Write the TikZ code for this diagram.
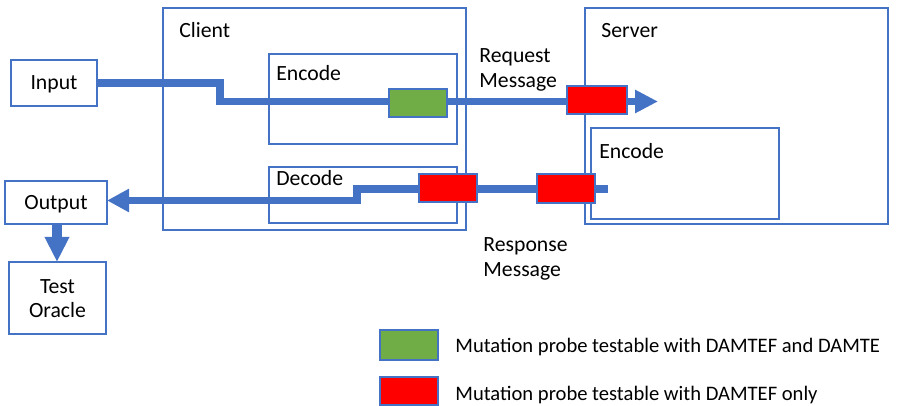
\documentclass[tikz,border=0pt]{standalone}
\usepackage{fontspec}
\setmainfont{Carlito}
\usetikzlibrary{arrows.meta,fit}
\definecolor{lineblue}{HTML}{4472C4}
\definecolor{probegreen}{HTML}{70AD47}
\definecolor{probered}{HTML}{FF0000}
\begin{document}
\begin{tikzpicture}[x=0.5pt,y=-0.5pt,
  box/.style={draw=lineblue, line width=1.1pt, inner sep=0pt},
  probe/.style={draw=lineblue, line width=1.3pt, inner sep=0pt},
  lbl/.style={font=\fontsize{10.85}{12.5}\selectfont, inner sep=0pt, anchor=base west},
  legendtext/.style={font=\fontsize{10.3}{12.5}\selectfont, inner sep=0pt, anchor=base west},
  flow/.style={draw=lineblue, line width=3.6pt, line join=miter},
  headtip/.style={-{Triangle[length=11.5pt,width=11pt]}}
]
\useasboundingbox (0,0) rectangle (921,406);

% containers
\node[box, fit={(163,8) (466,230)}] (client) {};
\node[box, fit={(269,54) (457,144)}] (cenc) {};
\node[box, fit={(269,167) (457,223)}] (cdec) {};
\node[box, fit={(585,8) (888,224)}] (server) {};
\node[box, fit={(591,128) (779,219)}] (senc) {};
\node[box, fit={(11,60) (97,106)}] (input) {};
\node[box, fit={(5,181) (107,224)}] (output) {};
\node[box, fit={(9,262) (106,334)}] (oracle) {};

% labels (multi-line nodes sit on the baseline of their last line)
\node[lbl] (tclient) at (179,38) {Client};
\node[lbl] (tcenc) at (276,81) {Encode};
\node[lbl] (tcdec) at (276,186) {Decode};
\node[lbl] (tserver) at (601,38) {Server};
\node[lbl] (tsenc) at (599,159) {Encode};
\node[lbl, anchor=base] (tinput) at (54,90) {Input};
\node[lbl, anchor=base] (toutput) at (56,210) {Output};
\node[lbl, anchor=base, align=center] (toracle) at (57.5,318) {Test\\Oracle};
\node[lbl, align=left] (treq) at (479,88) {Request\\Message};
\node[lbl, align=left] (tresp) at (483,277) {Response\\Message};

% request path
\coordinate (reqend) at (658,101.5);
\draw[flow, headtip] (input.east) -- (220,83) -- (220,101.5) -- (reqend);

% response path
\coordinate (respstart) at (608,189);
\coordinate (respend) at (107,200.5);
\draw[flow, -{Triangle[length=11pt,width=11pt]}] (respstart) -- (357,189) -- (357,200.5) -- (respend);

% output to oracle
\coordinate (otop) at (57,224);
\coordinate (obot) at (57,262);
\draw[draw=lineblue, line width=4.8pt, -{Triangle[length=12.5pt,width=11.5pt]}] (otop) -- (obot);

% mutation probes
\node[probe, fill=probegreen, fit={(389,89) (447,117)}] (pg) {};
\node[probe, fill=probered, fit={(567,86) (627,114)}] (pr1) {};
\node[probe, fill=probered, fit={(419,174) (477,202)}] (pr2) {};
\node[probe, fill=probered, fit={(537,174) (595,203)}] (pr3) {};

% legend
\node[probe, fill=probegreen, fit={(380,330) (438,360)}] (lg) {};
\node[probe, fill=probered, fit={(380,377) (438,405)}] (lr) {};
\node[legendtext] (tlg) at (455,352) {Mutation probe testable with DAMTEF and DAMTE};
\node[legendtext] (tlr) at (455,400) {Mutation probe testable with DAMTEF only};
\end{tikzpicture}
\end{document}
